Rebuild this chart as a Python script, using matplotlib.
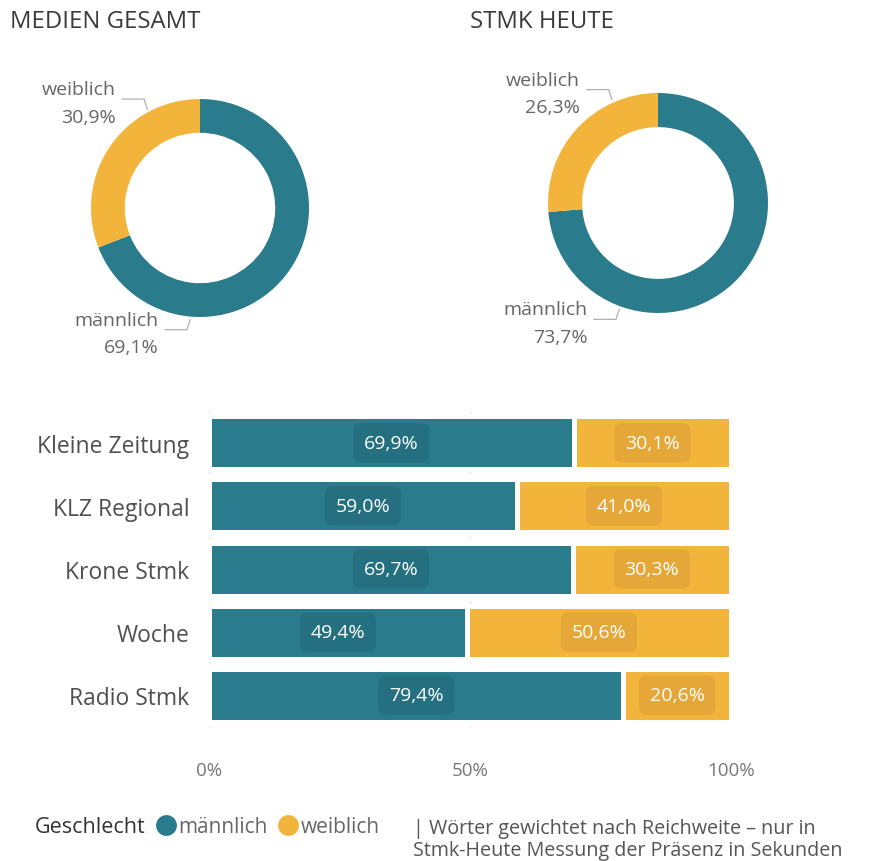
import numpy as np
import matplotlib
matplotlib.use("Agg")
import matplotlib.pyplot as plt
from matplotlib.lines import Line2D

plt.rcParams['font.family'] = ['Open Sans', 'DejaVu Sans']

# ---------------- data ----------------
donut_titles = ["MEDIEN GESAMT", "STMK HEUTE"]
gender_labels = ["männlich", "weiblich"]
donut_male = [69.1, 73.7]
donut_female = [30.9, 26.3]

categories = ["Kleine Zeitung", "KLZ Regional", "Krone Stmk", "Woche", "Radio Stmk"]
male_share = [69.9, 59.0, 69.7, 49.4, 79.4]
female_share = [30.1, 41.0, 30.3, 50.6, 20.6]

x_ticks = [0, 50, 100]
x_tick_labels = ["0%", "50%", "100%"]

legend_title = "Geschlecht"
footnote = ["| Wörter gewichtet nach Reichweite – nur in",
            "Stmk-Heute Messung der Präsenz in Sekunden"]

# ---------------- style ----------------
TEAL = "#2A7B8C"
YELLOW = "#F3B43B"
TEAL_DARK = "#257080"
YELLOW_DARK = "#E5A838"
W, H = 869, 862
fig = plt.figure(figsize=(W / 100, H / 100), dpi=100)
fig.patch.set_facecolor("white")


def fmt(v):
    return f"{v:.1f}".replace(".", ",") + "%"


def px_axes(cx, cy, r):
    return fig.add_axes([(cx - r) / W, 1 - (cy + r) / H, 2 * r / W, 2 * r / H])


# donut layout: center px, radius px, leader angles (female, male)
donut_layout = [((200, 209), 109, 118, 265), ((658, 204), 110, 114, 250)]
title_x = [10, 470]

for i in range(2):
    (cx, cy), r, ang_f, ang_m = donut_layout[i]
    ax = px_axes(cx, cy, r)
    ax.pie([donut_male[i], donut_female[i]], colors=[TEAL, YELLOW], startangle=90,
           counterclock=False, radius=1.0,
           wedgeprops=dict(width=0.31, edgecolor="none"))
    ax.set_xlim(-1, 1)
    ax.set_ylim(-1, 1)
    ax.set_aspect("equal")
    ax.axis("off")
    fig.text(title_x[i] / W, 1 - 22 / H, donut_titles[i], fontsize=17.2,
             color="#3a3a3a", va="center", ha="left")
    for ang, sgn, name, val in [(ang_f, 1, gender_labels[1], donut_female[i]),
                                (ang_m, -1, gender_labels[0], donut_male[i])]:
        t = np.deg2rad(ang)
        p = np.array([1.03 * np.cos(t), 1.03 * np.sin(t)])
        elbow = p + np.array([-0.03, sgn * 0.09])
        end = elbow + np.array([-0.2, 0])
        ax.plot([p[0], elbow[0], end[0]], [p[1], elbow[1], end[1]],
                color="#b0b0b0", lw=0.9, clip_on=False)
        tx = end[0] - 0.06
        ax.text(tx, elbow[1] + 0.09, name, ha="right", va="center", fontsize=14,
                color="#666666", clip_on=False)
        ax.text(tx, elbow[1] - 0.16, fmt(val), ha="right", va="center",
                fontsize=14, color="#666666", clip_on=False)

# ---------------- stacked bar ----------------
bar_top, bar_bot = 411, 729
axb = fig.add_axes([209 / W, 1 - bar_bot / H, 522 / W, (bar_bot - bar_top) / H])
y = np.arange(len(categories))
axb.barh(y, male_share, height=0.84, color=TEAL, edgecolor="white", linewidth=3.6)
axb.barh(y, female_share, left=male_share, height=0.84, color=YELLOW,
         edgecolor="white", linewidth=3.6)
for yi, m, f in zip(y, male_share, female_share):
    axb.text(m / 2, yi, fmt(m), ha="center", va="center", fontsize=14,
             color="white",
             bbox=dict(boxstyle="round,pad=0.55,rounding_size=0.4",
                       fc=TEAL_DARK, ec="none"))
    axb.text(m + f / 2, yi, fmt(f), ha="center", va="center", fontsize=14,
             color="white",
             bbox=dict(boxstyle="round,pad=0.55,rounding_size=0.4",
                       fc=YELLOW_DARK, ec="none"))
axb.set_xlim(0, 100)
axb.set_ylim(len(categories) - 0.5 + 0.02, -0.5 - 0.02)
axb.set_yticks(y)
axb.set_yticklabels(categories, fontsize=16.5, color="#505050")
axb.set_xticks(x_ticks)
axb.set_xticklabels(x_tick_labels, fontsize=13.5, color="#777777")
axb.tick_params(axis="both", length=0)
axb.tick_params(axis="y", pad=14)
axb.tick_params(axis="x", pad=24)
for s in axb.spines.values():
    s.set_visible(False)
axb.grid(axis="x", color="#d0d0d0", linestyle=(0, (1, 3)), linewidth=0.9)
axb.set_axisbelow(True)

# ---------------- legend ----------------
ly = 1 - 828 / H
fig.text(35 / W, ly, legend_title, fontsize=15.5, color="#333333",
         va="center", ha="left")
handles = [Line2D([], [], marker="o", linestyle="none", markersize=15,
                  markerfacecolor=c, markeredgecolor="none") for c in (TEAL, YELLOW)]
fig.legend(handles, gender_labels, loc="center left", bbox_to_anchor=(153 / W, ly),
           ncol=2, frameon=False, handletextpad=0.0, columnspacing=0.4,
           borderpad=0, borderaxespad=0, handlelength=1.2,
           prop=dict(size=15), labelcolor="#666666")

fig.text(413 / W, 1 - 840 / H, "\n".join(footnote), fontsize=14.2, color="#555555",
         va="center", ha="left", linespacing=1.08)

fig.savefig("out.png", dpi=100, facecolor="white")
